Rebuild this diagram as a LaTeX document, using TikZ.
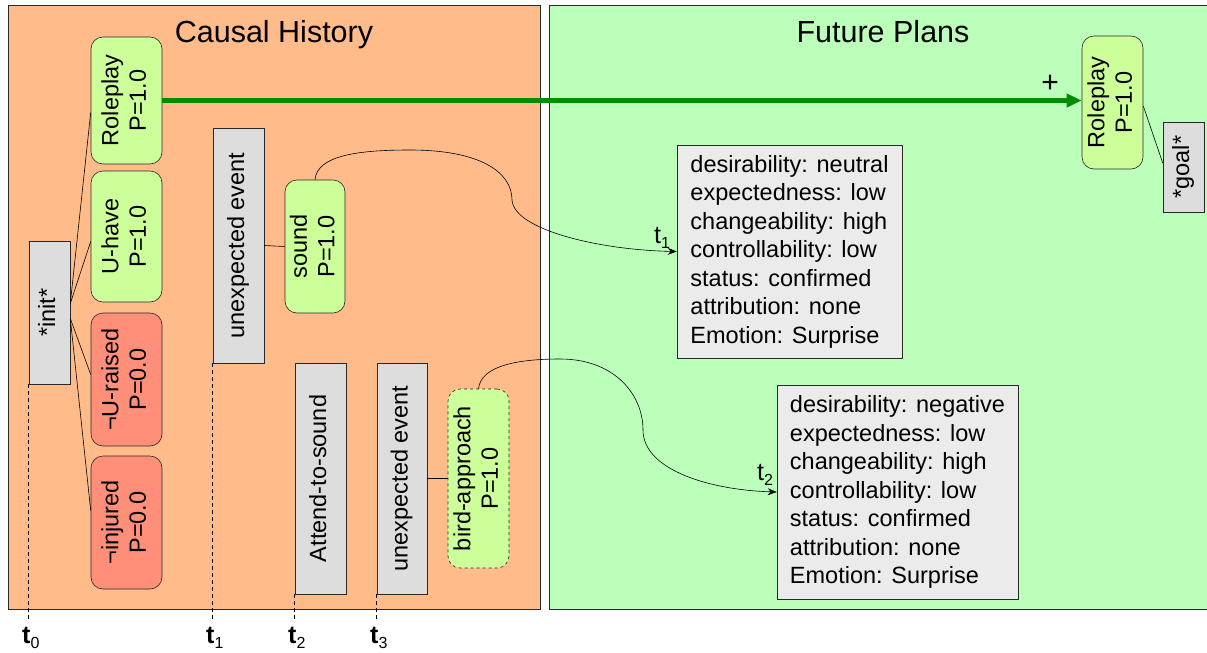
\documentclass[tikz,border=0pt]{standalone}
\usepackage{graphicx}
\usepackage{fontspec}
\setmainfont{Liberation Sans}
\usetikzlibrary{arrows.meta,calc}
\definecolor{peach}{RGB}{255,187,138}
\definecolor{mint}{RGB}{187,255,187}
\definecolor{lime}{RGB}{204,255,153}
\definecolor{salmon}{RGB}{255,143,120}
\definecolor{gboxc}{RGB}{221,221,221}
\definecolor{infoc}{RGB}{235,235,235}
\definecolor{arrowgreen}{RGB}{0,140,0}
\definecolor{edgec}{RGB}{40,40,40}
\newcommand{\vtxt}[1]{\rotatebox{90}{\begin{tabular}{@{}c@{}}#1\end{tabular}}}
\newcommand{\tsub}[1]{\raisebox{-0.22em}{\fontsize{16}{18}\selectfont #1}}
\begin{document}
\begin{tikzpicture}[x=1pt,y=-1pt,
  every node/.style={inner sep=0pt, font=\fontsize{23.5}{27.5}\selectfont},
  panel/.style={draw=edgec, line width=0.8pt},
  gbox/.style={draw=edgec, fill=gboxc, line width=0.6pt},
  goodnode/.style={draw=edgec, fill=lime, rounded corners=12pt, line width=0.6pt},
  badnode/.style={draw=edgec, fill=salmon, rounded corners=12pt, line width=0.6pt},
  infobox/.style={draw=edgec, fill=infoc, line width=0.6pt, align=left, font=\fontsize{23.5}{28.5}\selectfont},
  link/.style={draw=black, line width=0.6pt},
  tmark/.style={draw=black, line width=0.6pt, dash pattern=on 4pt off 3pt},
  tlabel/.style={font=\fontsize{25}{27}\selectfont, anchor=base west},
  title/.style={font=\fontsize{30.5}{33}\selectfont, anchor=base}
]
\useasboundingbox (0,0) rectangle (1207,653);
\fill[white] (0,0) rectangle (1207,653);
\draw[panel, fill=peach] (8,5) rectangle (540,609);
\draw[panel, fill=mint] (549,5) rectangle (1215,609);

\node[title] (th) at (274,42) {Causal History};
\node[title] (tf) at (883,42) {Future Plans};

% causal history nodes
\node[gbox, minimum width=41pt, minimum height=143pt] (init) at (49.5,312.5) {\vtxt{*init*}};
\node[goodnode, minimum width=71pt, minimum height=127pt] (rp1) at (126.5,100.5) {\vtxt{Roleplay\\P=1.0}};
\node[goodnode, minimum width=71pt, minimum height=131pt] (uhave) at (126.5,236.5) {\vtxt{U-have\\P=1.0}};
\node[badnode, minimum width=71pt, minimum height=133pt] (uraised) at (126.5,379.5) {\vtxt{¬U-raised\\P=0.0}};
\node[badnode, minimum width=71pt, minimum height=133pt] (injured) at (126.5,522.5) {\vtxt{¬injured\\P=0.0}};
\node[gbox, minimum width=51pt, minimum height=235pt] (ue1) at (238.5,245.5) {\vtxt{unexpected event}};
\node[goodnode, minimum width=60pt, minimum height=133pt] (sound) at (315,246.5) {\vtxt{sound\\P=1.0}};
\node[gbox, minimum width=51pt, minimum height=231pt] (attend) at (320.5,478.5) {\vtxt{Attend-to-sound}};
\node[gbox, minimum width=50pt, minimum height=231pt] (ue2) at (402,478.5) {\vtxt{unexpected event}};
\node[goodnode, dashed, minimum width=61pt, minimum height=179pt] (bird) at (478.5,478.5) {\vtxt{bird-approach\\P=1.0}};

% future plans nodes
\node[goodnode, minimum width=61pt, minimum height=133pt] (rp2) at (1112.5,102.5) {\vtxt{Roleplay\\P=1.0}};
\node[gbox, minimum width=41pt, minimum height=90pt] (goal) at (1183.5,167) {\vtxt{*goal*}};
\node[infobox, minimum width=225pt, minimum height=213pt] (box1) at (789.5,251.5) {desirability: neutral\\expectedness: low\\changeability: high\\controllability: low\\status: confirmed\\attribution: none\\Emotion: Surprise};
\node[infobox, minimum width=241pt, minimum height=214pt] (box2) at (897.5,492) {desirability: negative\\expectedness: low\\changeability: high\\controllability: low\\status: confirmed\\attribution: none\\Emotion: Surprise};

% connectors
\draw[link] ($(init.east)+(0,-9)$) -- ($(rp1.west)+(0,12)$);
\draw[link] ($(init.east)+(0,-9)$) -- ($(uhave.west)+(0,5)$);
\draw[link] ($(init.east)+(0,6)$) -- ($(uraised.west)+(0,-5)$);
\draw[link] ($(init.east)+(0,6)$) -- ($(injured.west)+(0,-12)$);
\draw[link] (ue1.east) -- (sound.west);
\draw[link] (ue2.east) -- (bird.west);
\draw[link] ($(rp2.east)+(0,3.5)$) -- ($(goal.west)+(0,-4)$);

\draw[line width=4.5pt, arrowgreen, -{Triangle[length=15pt,width=13pt]}] (rp1.east) -- (rp1.east -| rp2.west);
\node[font=\fontsize{30}{32}\selectfont] (plus) at (1050,84) {+};

\draw[link, -{Stealth[length=9pt,width=7pt]}] (sound.north) .. controls (317,155) and (360,150) .. (410,150) .. controls (480,150) and (512,172) .. (512,200) .. controls (514,230) and (600,250) .. (box1.west);
\draw[link, -{Stealth[length=9pt,width=7pt]}] (bird.north) .. controls (481,365) and (520,359) .. (560,359) .. controls (615,359) and (643,395) .. (643,430) .. controls (643,470) and (710,490) .. (box2.west);
\node[tlabel] (c1) at (654,243) {t\tsub{1}};
\node[tlabel] (c2) at (757,480) {t\tsub{2}};

% time marks
\coordinate (tbase) at (0,622);
\draw[tmark] (init.south west) -- (init.south west |- tbase);
\draw[tmark] (ue1.south west) -- (ue1.south west |- tbase);
\draw[tmark] (attend.south west) -- (attend.south west |- tbase);
\draw[tmark] (ue2.south west) -- (ue2.south west |- tbase);
\node[tlabel] (l0) at (22,643) {\textbf{t}\tsub{0}};
\node[tlabel] (l1) at (206,643) {\textbf{t}\tsub{1}};
\node[tlabel] (l2) at (288,643) {\textbf{t}\tsub{2}};
\node[tlabel] (l3) at (370,643) {\textbf{t}\tsub{3}};
\end{tikzpicture}
\end{document}
